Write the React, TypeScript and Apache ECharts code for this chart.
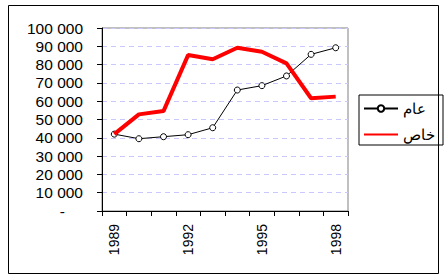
import React, { useEffect, useRef } from "react";
import * as echarts from "echarts";

const years = ["1989", "1990", "1991", "1992", "1993", "1994", "1995", "1996", "1997", "1998"];
const publicValues = [42000, 39500, 40600, 41700, 45500, 66100, 68500, 73800, 85600, 89200];
const privateValues = [42000, 52800, 54600, 85200, 82900, 89200, 87000, 80700, 61600, 62500];
const seriesNames = ["عام", "خاص"];

const FONT = "'Liberation Sans', Arial, sans-serif";

function fmt(v: number): string {
  return String(v).replace(/\B(?=(\d{3})+(?!\d))/g, " ");
}

export default function App() {
  const ref = useRef<HTMLDivElement>(null);
  useEffect(() => {
    document.body.style.margin = "0";
    const chart = echarts.init(ref.current!, null, { renderer: "svg" });
    chart.setOption({
      animation: false,
      backgroundColor: "#ffffff",
      textStyle: { fontFamily: FONT, color: "#000" },
      graphic: [
        {
          type: "rect",
          shape: { x: 8.5, y: 5.5, width: 430, height: 268 },
          style: { fill: "none", stroke: "#000", lineWidth: 1 },
          z: 100,
        },
      ],
      grid: {
        left: 102,
        top: 28,
        right: 96,
        bottom: 68,
        show: true,
        borderColor: "#808080",
        borderWidth: 1,
        backgroundColor: "transparent",
      },
      legend: {
        left: 359,
        top: 95,
        orient: "vertical",
        width: 75,
        padding: [6, 8, 3, 4],
        borderColor: "#000",
        borderWidth: 1,
        borderRadius: 0,
        itemWidth: 34,
        itemHeight: 8,
        itemGap: 11,
        textStyle: { fontFamily: FONT, fontSize: 15, lineHeight: 14, color: "#000" },
        data: [
          { name: seriesNames[0] },
          { name: seriesNames[1], itemStyle: { opacity: 0 } },
        ],
      },
      xAxis: {
        type: "category",
        data: years,
        boundaryGap: true,
        axisLine: { lineStyle: { color: "#000", width: 1 } },
        axisTick: { show: true, interval: 0, length: 5, lineStyle: { color: "#000" } },
        axisLabel: {
          interval: 2,
          rotate: 90,
          margin: 13,
          fontFamily: FONT,
          fontSize: 14,
          color: "#000",
        },
        splitLine: { show: false },
      },
      yAxis: {
        type: "value",
        min: 0,
        max: 100000,
        interval: 10000,
        axisLine: { show: true, lineStyle: { color: "#000", width: 1 } },
        axisTick: { show: true, length: 5, lineStyle: { color: "#000" } },
        axisLabel: {
          margin: 19,
          fontFamily: FONT,
          fontSize: 15.5,
          color: "#000",
          formatter: (v: number) => (v === 0 ? "{z|-}" : fmt(v)),
          rich: { z: { fontFamily: FONT, fontSize: 15.5, color: "#000", padding: [0, 18, 0, 0] } },
        },
        splitLine: { show: true, lineStyle: { color: "#c8c8ff", type: [5, 4], width: 1 } },
      },
      series: [
        {
          name: seriesNames[0],
          type: "line",
          data: publicValues,
          color: "#000",
          symbol: "circle",
          symbolSize: 6,
          lineStyle: { color: "#000", width: 1 },
          itemStyle: { color: "#fff", borderColor: "#000", borderWidth: 1 },
          z: 2,
        },
        {
          name: seriesNames[1],
          type: "line",
          data: privateValues,
          color: "#ff0000",
          symbol: "none",
          lineStyle: { color: "#ff0000", width: 4 },
          z: 3,
        },
      ],
    });
    return () => chart.dispose();
  }, []);
  return <div ref={ref} style={{ width: 444, height: 279 }} />;
}
